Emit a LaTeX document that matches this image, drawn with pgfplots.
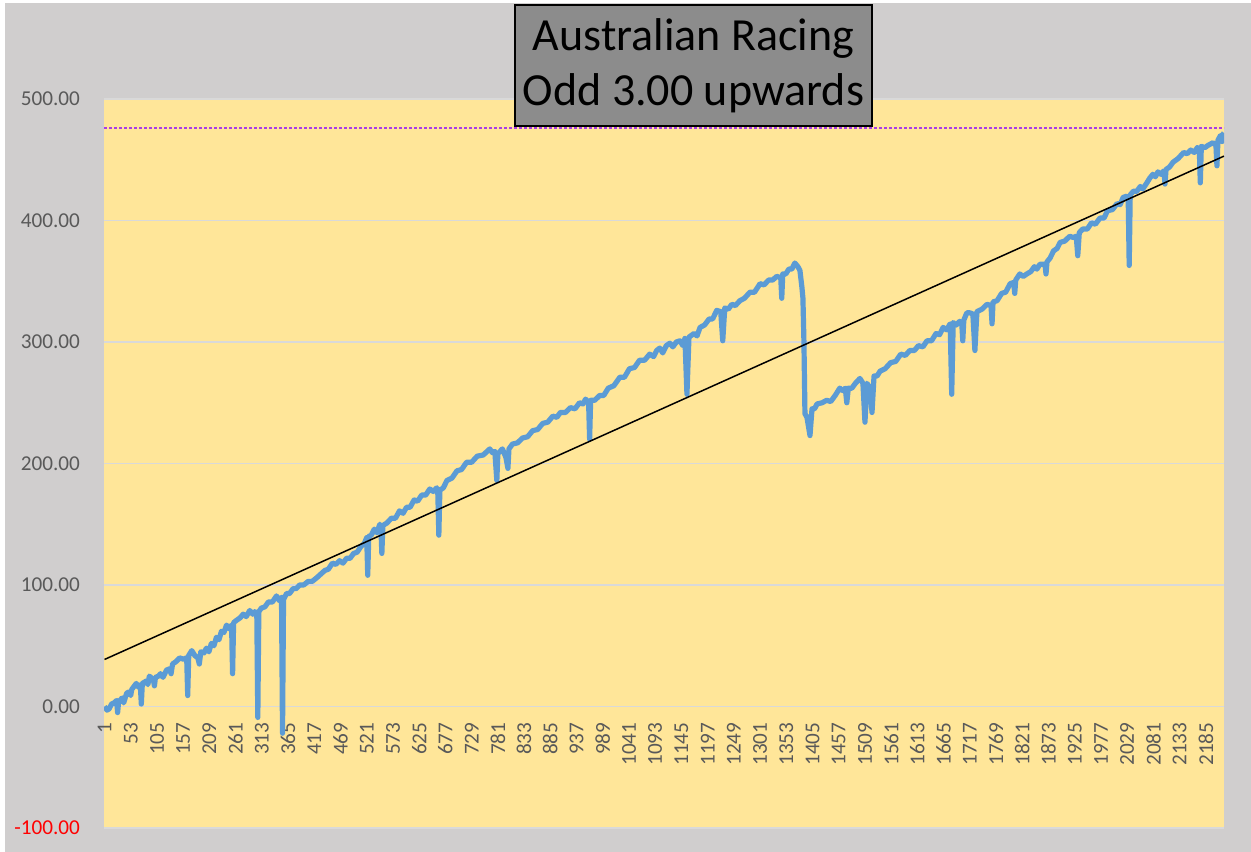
\documentclass[border=0pt]{standalone}
\usepackage{fontspec}
\setmainfont{Carlito}
\usepackage{pgfplots}
\pgfplotsset{compat=1.18}
\definecolor{bgray}{RGB}{208,206,206}
\definecolor{plotbg}{RGB}{255,230,153}
\definecolor{gridc}{RGB}{217,217,217}
\definecolor{lineblue}{RGB}{91,155,213}
\definecolor{ticktext}{RGB}{89,89,89}
\definecolor{dashpurple}{RGB}{170,60,230}
\definecolor{titlegray}{RGB}{140,140,140}

\begin{document}
\begin{tikzpicture}
  \fill[white] (0,0) rectangle (625.5bp,426bp);
  \fill[bgray] (2.5bp,0) rectangle (625.5bp,424.5bp);
  \begin{axis}[
    at={(52bp,12bp)}, anchor=south west,
    scale only axis, width=560bp, height=364.5bp,
    xmin=0, xmax=2221, ymin=-100, ymax=500,
    axis x line*=middle, axis y line*=left,
    axis line style={draw=none},
    hide obscured x ticks=false,
    axis background/.style={fill=plotbg},
    ymajorgrids, grid style={gridc, line width=0.8bp},
    major tick length=0pt,
    ytick={-100,0,100,200,300,400,500},
    yticklabels={\textcolor{red}{-100.00},0.00,100.00,200.00,300.00,400.00,500.00},
    xtick={1,53,...,2185},
    /pgf/number format/assume math mode=true,
    /pgf/number format/1000 sep={},
    tick label style={font=\fontsize{10.6bp}{12bp}\selectfont, text=ticktext},
    yticklabel style={anchor=east},
    yticklabel shift=8.5bp,
    xticklabel style={rotate=90, anchor=east},
    xticklabel shift=4.5bp,
    clip=true,
  ]
    % cumulative profit
    \addplot[lineblue, line width=2.6bp, line join=round] coordinates {
      (1,0) (6,-3) (10,-2) (15,2) (20,3) (25,5) (27,-5) (29,4) (36,7) (39,3) (45,11) (50,12) (53,9)
      (55,14) (64,19) (68,16) (72,18) (74,2) (76,19) (84,21) (87,18) (90,25) (98,22) (100,17) (102,24)
      (108,25) (112,27) (117,24) (124,30) (130,31) (133,27) (136,35) (143,37) (150,40) (157,39) (164,40)
      (166,9) (168,42) (174,46) (180,42) (186,40) (189,35) (192,45) (198,44) (203,48) (208,45) (213,52)
      (218,50) (223,57) (228,55) (233,62) (238,61) (243,67) (248,64) (253,67) (255,27) (257,69) (263,71)
      (270,73) (276,76) (282,74) (289,79) (295,76) (299,78) (303,77) (305,-9) (307,78) (312,81) (319,82)
      (326,86) (334,86) (342,91) (348,87) (352,90) (354,-22) (356,88) (362,93) (368,93) (375,97)
      (381,97) (388,100) (396,100) (405,103) (413,103) (422,106) (430,109) (438,112) (445,113) (453,118)
      (460,117) (467,120) (474,118) (481,122) (488,122) (495,126) (502,127) (510,132) (516,134) (521,139)
      (523,108) (525,140) (530,141) (536,146) (541,143) (547,150) (549,148) (551,126) (553,149) (561,151)
      (570,155) (578,155) (586,161) (593,159) (600,164) (607,164) (615,170) (622,169) (630,174) (638,174)
      (646,179) (653,177) (660,180) (662,175) (664,141) (666,178) (673,180) (680,186) (690,188) (700,194)
      (709,195) (719,201) (729,201) (740,206) (752,207) (765,212) (770,209) (775,210) (779,186) (781,208)
      (790,212) (797,205) (801,196) (803,212) (810,216) (820,217) (830,221) (840,222) (850,227) (860,228)
      (870,233) (880,234) (890,239) (898,238) (905,242) (915,242) (925,246) (934,245) (943,250) (950,249)
      (955,253) (961,250) (963,220) (965,252) (973,252) (983,256) (991,256) (1000,262) (1011,264)
      (1023,271) (1032,271) (1042,278) (1052,279) (1062,285) (1072,285) (1082,290) (1090,288) (1096,293)
      (1102,295) (1108,291) (1115,297) (1122,299) (1128,296) (1135,300) (1142,301) (1148,297) (1152,303)
      (1156,257) (1160,304) (1170,307) (1176,305) (1182,312) (1191,314) (1200,319) (1207,319) (1215,326)
      (1223,325) (1227,301) (1231,328) (1238,327) (1245,331) (1252,330) (1261,334) (1270,336) (1281,341)
      (1290,341) (1301,348) (1309,347) (1318,351) (1326,351) (1334,354) (1342,353) (1344,336) (1346,356)
      (1352,356) (1358,360) (1364,360) (1370,365) (1376,362) (1380,359) (1384,345) (1386,336) (1388,300)
      (1390,241) (1394,238) (1400,223) (1404,245) (1409,245) (1414,249) (1424,250) (1433,252) (1441,251)
      (1450,256) (1459,262) (1465,260) (1470,262) (1473,250) (1476,262) (1483,262) (1490,266) (1499,270)
      (1505,266) (1509,234) (1513,266) (1519,262) (1523,242) (1527,272) (1533,272) (1539,276) (1549,278)
      (1560,283) (1570,284) (1580,290) (1589,289) (1598,293) (1607,293) (1615,297) (1624,296) (1632,301)
      (1641,301) (1650,307) (1657,306) (1664,312) (1671,310) (1678,315) (1681,257) (1684,316) (1690,314)
      (1697,317) (1701,315) (1703,301) (1705,318) (1711,324) (1717,324) (1723,323) (1727,293) (1731,325)
      (1741,327) (1751,331) (1759,330) (1761,315) (1763,333) (1771,334) (1780,340) (1788,341) (1797,348)
      (1804,349) (1806,340) (1808,351) (1816,356) (1823,354) (1830,356) (1838,358) (1845,362) (1850,360)
      (1856,364) (1866,364) (1868,356) (1870,366) (1876,369) (1883,375) (1890,377) (1896,382) (1905,383)
      (1915,387) (1922,386) (1928,387) (1931,371) (1934,390) (1941,393) (1950,393) (1958,398) (1966,397)
      (1975,402) (1983,402) (1990,408) (2000,409) (2009,414) (2015,413) (2021,419) (2028,420) (2031,419)
      (2033,363) (2035,421) (2041,424) (2048,424) (2055,428) (2060,426) (2068,431) (2074,435) (2080,438)
      (2085,436) (2090,440) (2096,438) (2102,441) (2104,430) (2106,442) (2113,444) (2120,448) (2130,451)
      (2141,456) (2148,455) (2155,458) (2162,456) (2168,460) (2172,459) (2174,431) (2176,461) (2183,460)
      (2190,462) (2199,464) (2205,462) (2207,445) (2209,466) (2214,470) (2217,465) (2219,471) (2221,472)
    };
    % linear trend
    \addplot[black, line width=0.75bp] coordinates {(1,38.7) (2221,453)};
    % target line
    \addplot[dashpurple, line width=0.7bp, dash pattern=on 1.5bp off 1bp] coordinates {(0,476) (2221,476)};
  \end{axis}
  \node[draw=black, line width=0.6bp, fill=titlegray, minimum width=178.5bp, minimum height=60.5bp,
        align=center, inner sep=0pt, font=\fontsize{23bp}{27.5bp}\selectfont]
    at (346.75bp,393.25bp) {Australian Racing\\Odd 3.00 upwards};
\end{tikzpicture}
\end{document}
